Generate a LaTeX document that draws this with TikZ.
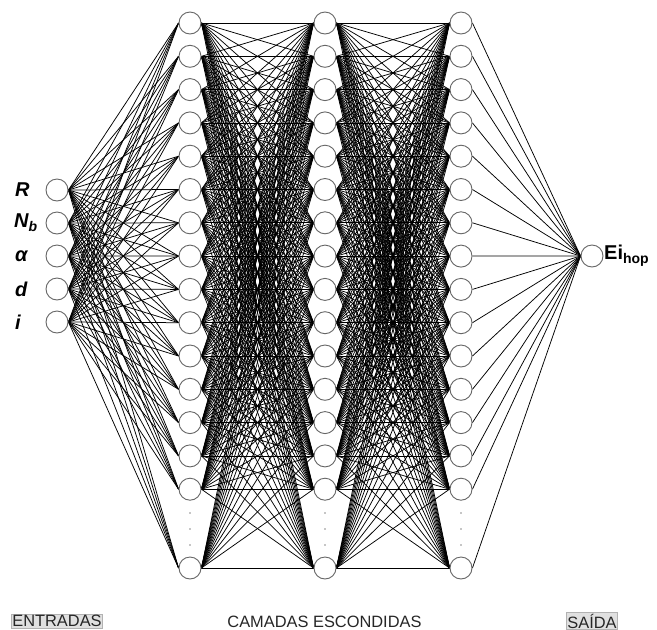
\documentclass[tikz,border=0pt]{standalone}
\usepackage{fontspec}
\setmainfont{Liberation Sans}
\usetikzlibrary{backgrounds}
\tikzset{
  neuron/.style={circle,draw=black!60,line width=0.9pt,fill=white,minimum size=22pt,inner sep=0pt},
  conn/.style={line width=0.75pt,draw=black},
  lbl/.style={font=\fontsize{20}{22}\selectfont\bfseries\itshape,anchor=west,inner sep=0pt},
  captext/.style={font=\fontsize{16.4}{18}\selectfont,text=black!85,inner sep=0pt},
  capbox/.style={captext,fill=black!12,draw=black!30,line width=0.4pt,inner xsep=1pt,inner ysep=1.5pt},
  dotmark/.style={fill=black!45}
}
\begin{document}
\begin{tikzpicture}[x=1pt,y=-1pt]
\useasboundingbox (0,0) rectangle (657,630);
% input layer
\foreach \k/\y in {1/190,2/223,3/256,4/289,5/322}
  \node[neuron] (i\k) at (57,\y) {};
% hidden layers
\foreach \L/\x in {1/190,2/325,3/461}{
  \foreach \k in {0,...,14}
    \node[neuron] (h\L-\k) at (\x,23+33.3*\k) {};
  \node[neuron] (h\L-15) at (\x,568) {};
  \foreach \y in {513,529,545}
    \fill[dotmark] (\x,\y) circle (0.9pt);
}
% output
\node[neuron] (o) at (592,256) {};
% connections
\begin{pgfonlayer}{background}
\foreach \a in {1,...,5}
  \foreach \b in {0,...,15}
    \draw[conn] (i\a.east) -- (h1-\b.west);
\foreach \a in {0,...,15}
  \foreach \b in {0,...,15}{
    \draw[conn] (h1-\a.east) -- (h2-\b.west);
    \draw[conn] (h2-\a.east) -- (h3-\b.west);
  }
\foreach \a in {0,...,15}
  \draw[conn] (h3-\a.east) -- (o.west);
\end{pgfonlayer}
% input labels
\node[lbl] (lR) at (15,190) {R};
\node[lbl] (lN) at (14,223) {N\raisebox{-0.35ex}{\fontsize{14}{14}\selectfont b}};
\node[lbl] (la) at (15,256) {α};
\node[lbl] (ld) at (15,289) {d};
\node[lbl] (li) at (15,322) {i};
% output label
\node[anchor=west,inner sep=0pt,font=\fontsize{20}{22}\selectfont\bfseries] (lo) at (604,256)
  {Ei\raisebox{-0.4ex}{\fontsize{14}{14}\selectfont hop}};
% bottom captions
\node[capbox] (c1) at (57,621) {ENTRADAS};
\node[captext] (c2) at (324.5,622) {CAMADAS ESCONDIDAS};
\node[capbox] (c3) at (592,621) {SAÍDA};
\end{tikzpicture}
\end{document}
